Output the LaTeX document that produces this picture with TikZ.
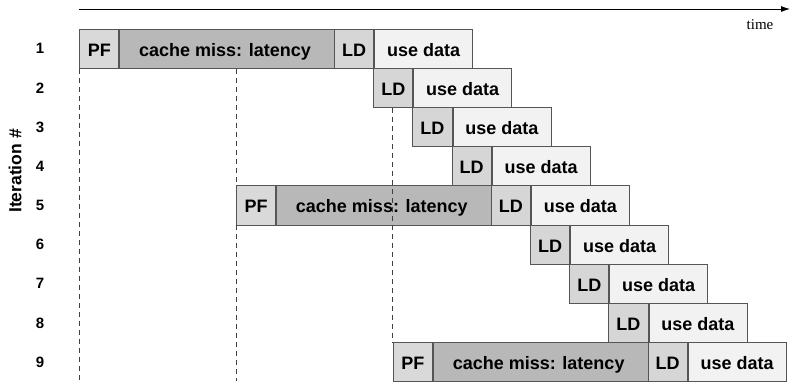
\documentclass[tikz,border=0pt]{standalone}
\usepackage{fontspec}
\setmainfont{Liberation Serif}
\setsansfont{Liberation Sans}
\usetikzlibrary{arrows.meta}
\definecolor{boxline}{HTML}{555555}
\definecolor{pfgray}{HTML}{D9D9D9}
\definecolor{cmgray}{HTML}{B8B8B8}
\definecolor{ldgray}{HTML}{D6D6D6}
\definecolor{udgray}{HTML}{F2F2F2}
\begin{document}
\begin{tikzpicture}[x=1pt,y=-1pt,
  box/.style={draw=boxline, line width=0.9pt, minimum height=39.2pt, inner sep=0pt, anchor=west,
    text height=15pt, text depth=0pt,
    font=\sffamily\bfseries\fontsize{18}{20}\selectfont, text=black},
  pfbox/.style={box, fill=pfgray, minimum width=39.2pt},
  cmbox/.style={box, fill=cmgray, minimum width=215.6pt},
  ldbox/.style={box, fill=ldgray, minimum width=39.2pt},
  udbox/.style={box, fill=udgray, minimum width=98pt},
  rowlab/.style={font=\sffamily\bfseries\fontsize{15}{17}\selectfont},
  guide/.style={draw=black!75, line width=0.7pt, dash pattern=on 5pt off 4pt}]
\useasboundingbox (0,0) rectangle (790,381);
% time axis
\coordinate (t0) at (79,9);
\coordinate (t1) at (790,9);
\draw[line width=0.8pt, -{Latex[length=9pt,width=6pt]}] (t0) -- (t1);
\node[font=\fontsize{15}{17}\selectfont] (timelab) at (760,25) {time};
\node[rotate=90, font=\sffamily\bfseries\fontsize{17.5}{19}\selectfont] (itlab) at (15,171) {Iteration \#};
% rows
\foreach \i in {1,...,9}{
  \pgfmathsetmacro{\yc}{48.6+(\i-1)*39.2}
  \pgfmathsetmacro{\xl}{334+(\i-1)*39.2}
  \node[rowlab] (n\i) at (40,\yc) {\i};
  \node[ldbox] (ld\i) at (\xl,\yc) {LD};
  \node[udbox] (ud\i) at (ld\i.east) {use data};
}
\foreach \i in {1,5,9}{
  \pgfmathsetmacro{\yc}{48.6+(\i-1)*39.2}
  \pgfmathsetmacro{\xp}{334+(\i-1)*39.2-254.8}
  \node[pfbox] (pf\i) at (\xp,\yc) {PF};
  \node[cmbox] (cm\i) at (pf\i.east) {\hspace*{0pt}cache miss: latency\hspace*{5pt}};
}
% redraw LD boxes on top of cache-miss borders
\foreach \i in {1,5,9}{
  \node[ldbox] at (ld\i.west) {LD};
}
% dashed guides
\coordinate (bot) at (0,381);
\draw[guide] (pf1.south west) -- (pf1.south west |- bot);
\draw[guide] (pf5.north west |- pf1.south) -- (pf5.north west);
\draw[guide] (pf5.south west) -- (pf5.south west |- bot);
\draw[guide] (pf9.north west |- ld2.south) -- (pf9.north west);
\end{tikzpicture}
\end{document}
